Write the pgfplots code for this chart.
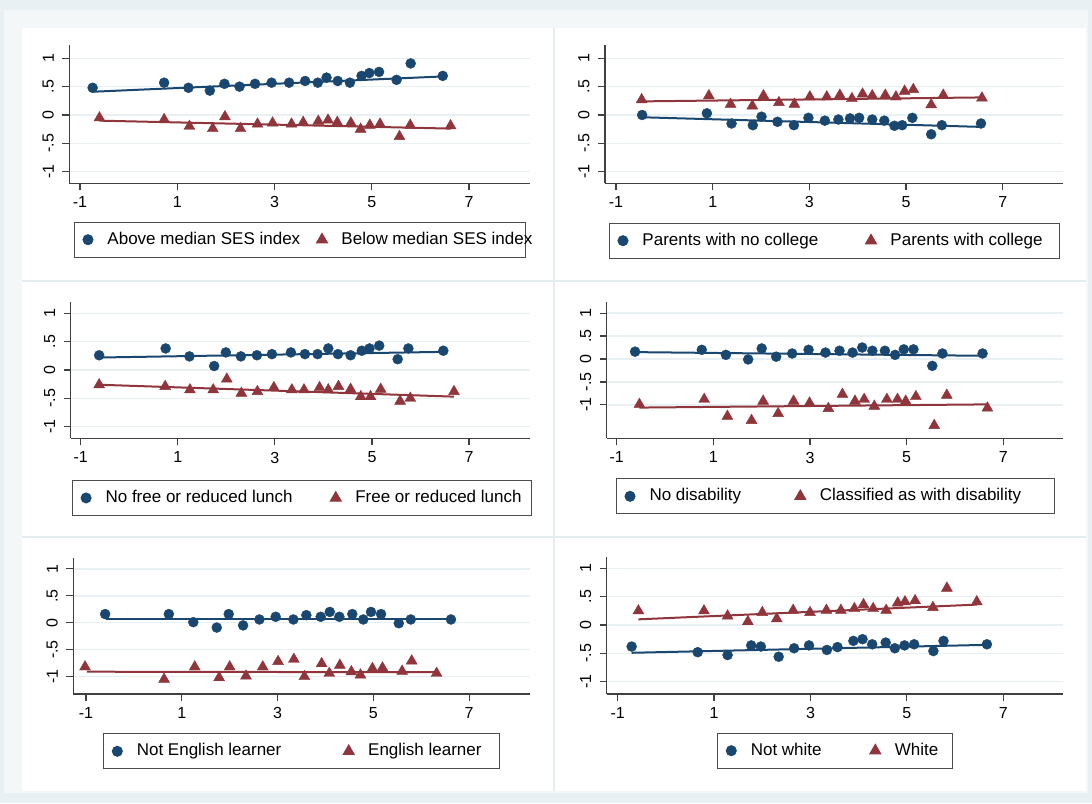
\documentclass[border=0pt]{standalone}
\usepackage{pgfplots}
\pgfplotsset{compat=1.18}
\usepackage{fontspec}
\setmainfont{Liberation Sans}
\definecolor{stnavy}{RGB}{26,71,111}
\definecolor{stmaroon}{RGB}{144,53,59}
\definecolor{gridc}{RGB}{232,240,243}
\definecolor{bgout}{RGB}{233,240,243}
\definecolor{bgmid}{RGB}{243,247,248}
\definecolor{sepc}{RGB}{228,236,239}
\newcommand\lt[2]{\makebox[#1][l]{#2}}
\pgfplotsset{
  panel/.style={
    scale only axis,
    anchor=south west,
    axis x line*=bottom, axis y line*=left,
    axis line style={-, draw=black!75, line width=1.2pt},
    xtick={-1,1,3,5,7}, xticklabels={-1,1,3,5,7},
    ytick={-1,-0.5,0,0.5,1}, yticklabels={-1,-.5,0,.5,1},
    tick align=outside, major tick length=7pt,
    tick style={draw=black!75, line width=1.2pt},
    ymajorgrids, major grid style={draw=gridc, line width=1.5pt},
    ticklabel style={font=\fontsize{16}{19}\selectfont},
    yticklabel style={rotate=90, anchor=south, yshift=5pt},
    xticklabel style={yshift=-3pt},
    clip=false,
    legend columns=2,
    legend style={anchor=north west, draw=black!70, line width=1pt,
      inner xsep=4pt, inner ysep=7.5pt, font=\fontsize{17}{20}\selectfont,
      nodes={inner sep=2pt, text height=12.5pt, text depth=3.5pt}},
  },
  mkimg/.style={legend image code/.code={\path (-9pt,0pt) (17pt,0pt); \draw[##1] plot coordinates {(0pt,0pt)};}},
  circ/.style={only marks, mark=*, mark size=5pt, mark options={draw=stnavy, fill=stnavy}, mkimg},
  tri/.style={only marks, mark=triangle*, mark size=6.3pt, mark options={draw=stmaroon, fill=stmaroon}, mkimg},
  fitb/.style={no marks, draw=stnavy, line width=2pt, forget plot},
  fitr/.style={no marks, draw=stmaroon, line width=2pt, forget plot},
}
\begin{document}
\begin{tikzpicture}
\fill[bgout] (0pt,0pt) rectangle (1092pt,803pt);
\fill[bgmid] (4pt,10pt) rectangle (1088pt,793pt);
\fill[white] (22pt,12pt) rectangle (1086pt,775pt);
\draw[sepc, line width=1.5pt] (554pt,12pt) -- (554pt,775pt);
\draw[sepc, line width=1.5pt] (22pt,522pt) -- (1086pt,522pt);
\draw[sepc, line width=1.5pt] (22pt,266pt) -- (1086pt,266pt);
\useasboundingbox (0pt,0pt) rectangle (1092pt,803pt);

% Panel 1
\begin{axis}[panel, at={(69.3pt,619.7pt)}, width=460.7pt, height=138.3pt,
  xmin=-1.22, xmax=8.254, ymin=-1.205, ymax=1.235,
  legend style={at={(0.0102,-0.2777)}}]
\addplot[circ] coordinates {(-0.74,0.48)(0.73,0.57)(1.23,0.48)(1.67,0.43)(1.97,0.55)(2.28,0.50)(2.60,0.55)(2.94,0.57)(3.30,0.57)(3.63,0.60)(3.89,0.57)(4.07,0.66)(4.30,0.60)(4.55,0.57)(4.79,0.69)(4.95,0.74)(5.15,0.76)(5.51,0.62)(5.80,0.91)(6.46,0.69)};
\addlegendentry{\lt{203pt}{Above median SES index}}
\addplot[tri] coordinates {(-0.60,-0.05)(0.73,-0.08)(1.25,-0.20)(1.73,-0.24)(1.98,-0.03)(2.30,-0.24)(2.65,-0.16)(2.96,-0.14)(3.35,-0.16)(3.59,-0.13)(3.90,-0.11)(4.10,-0.09)(4.29,-0.13)(4.57,-0.14)(4.77,-0.25)(4.96,-0.18)(5.17,-0.16)(5.57,-0.38)(5.79,-0.18)(6.62,-0.19)};
\addlegendentry{\lt{178pt}{Below median SES index}}
\addplot[fitb] coordinates {(-0.74,0.41)(6.46,0.68)};
\addplot[fitr] coordinates {(-0.60,-0.10)(6.62,-0.24)};
\end{axis}

% Panel 2
\begin{axis}[panel, at={(605pt,619.7pt)}, width=458.3pt, height=138.3pt,
  xmin=-1.228, xmax=8.253, ymin=-1.205, ymax=1.235,
  legend style={at={(0.0087,-0.2849)}}]
\addplot[circ] coordinates {(-0.46,0.00)(0.88,0.03)(1.39,-0.15)(1.83,-0.18)(2.01,-0.03)(2.34,-0.12)(2.68,-0.18)(2.98,-0.05)(3.32,-0.10)(3.60,-0.08)(3.84,-0.06)(4.03,-0.05)(4.30,-0.08)(4.55,-0.10)(4.76,-0.19)(4.92,-0.18)(5.13,-0.05)(5.52,-0.34)(5.74,-0.18)(6.55,-0.15)};
\addlegendentry{\lt{217pt}{Parents with no college}}
\addplot[tri] coordinates {(-0.47,0.27)(0.92,0.34)(1.37,0.19)(1.82,0.16)(2.05,0.34)(2.37,0.22)(2.69,0.19)(3.01,0.32)(3.36,0.32)(3.63,0.35)(3.88,0.29)(4.10,0.37)(4.30,0.34)(4.57,0.35)(4.79,0.32)(4.97,0.42)(5.15,0.45)(5.52,0.18)(5.77,0.35)(6.57,0.30)};
\addlegendentry{\lt{162.7pt}{Parents with college}}
\addplot[fitb] coordinates {(-0.46,-0.04)(6.55,-0.21)};
\addplot[fitr] coordinates {(-0.47,0.24)(6.57,0.31)};
\end{axis}

% Panel 3
\begin{axis}[panel, at={(70.7pt,364.7pt)}, width=459.3pt, height=136.6pt,
  xmin=-1.206, xmax=8.256, ymin=-1.205, ymax=1.205,
  legend style={at={(0.003,-0.305)}}]
\addplot[circ] coordinates {(-0.62,0.26)(0.75,0.38)(1.24,0.24)(1.75,0.07)(1.99,0.31)(2.30,0.24)(2.63,0.26)(2.94,0.28)(3.33,0.31)(3.62,0.28)(3.88,0.28)(4.10,0.38)(4.30,0.28)(4.56,0.26)(4.79,0.34)(4.95,0.38)(5.15,0.43)(5.53,0.19)(5.75,0.38)(6.47,0.34)};
\addlegendentry{\lt{218.7pt}{No free or reduced lunch}}
\addplot[tri] coordinates {(-0.62,-0.26)(0.74,-0.29)(1.25,-0.35)(1.73,-0.35)(2.01,-0.16)(2.31,-0.41)(2.64,-0.38)(2.98,-0.31)(3.35,-0.35)(3.60,-0.35)(3.92,-0.31)(4.10,-0.35)(4.31,-0.29)(4.56,-0.34)(4.77,-0.47)(4.97,-0.47)(5.18,-0.34)(5.58,-0.55)(5.79,-0.50)(6.69,-0.38)};
\addlegendentry{\lt{170.6pt}{Free or reduced lunch}}
\addplot[fitb] coordinates {(-0.62,0.22)(6.47,0.32)};
\addplot[fitr] coordinates {(-0.62,-0.26)(6.69,-0.47)};
\end{axis}

% Panel 4
\begin{axis}[panel, at={(606.7pt,364.7pt)}, width=456.6pt, height=136.6pt,
  xmin=-1.207, xmax=8.241, ymin=-1.73, ymax=1.25,
  legend style={at={(0.0204,-0.293)}}]
\addplot[circ] coordinates {(-0.62,0.16)(0.76,0.20)(1.26,0.09)(1.72,-0.01)(2.00,0.23)(2.30,0.05)(2.63,0.12)(2.97,0.20)(3.32,0.14)(3.61,0.18)(3.88,0.14)(4.08,0.25)(4.29,0.18)(4.55,0.18)(4.76,0.09)(4.94,0.21)(5.14,0.21)(5.53,-0.15)(5.74,0.12)(6.57,0.12)};
\addlegendentry{\lt{139.3pt}{No disability}}
\addplot[tri] coordinates {(-0.53,-0.99)(0.81,-0.88)(1.29,-1.25)(1.79,-1.34)(2.03,-0.92)(2.34,-1.19)(2.66,-0.92)(2.99,-0.96)(3.38,-1.08)(3.67,-0.77)(3.93,-0.92)(4.12,-0.88)(4.33,-1.03)(4.59,-0.88)(4.81,-0.88)(4.98,-0.92)(5.19,-0.82)(5.57,-1.45)(5.83,-0.79)(6.67,-1.07)};
\addlegendentry{\lt{228.4pt}{Classified as with disability}}
\addplot[fitb] coordinates {(-0.62,0.15)(6.57,0.07)};
\addplot[fitr] coordinates {(-0.53,-1.06)(6.67,-0.99)};
\end{axis}

% Panel 5
\begin{axis}[panel, at={(73.3pt,109pt)}, width=456.7pt, height=135.7pt,
  xmin=-1.265, xmax=8.27, ymin=-1.324, ymax=1.196,
  legend style={at={(0.0657,-0.2896)}}]
\addplot[circ] coordinates {(-0.60,0.16)(0.73,0.16)(1.24,0.01)(1.73,-0.09)(1.98,0.16)(2.28,-0.05)(2.62,0.06)(2.96,0.11)(3.33,0.06)(3.60,0.14)(3.90,0.11)(4.09,0.20)(4.29,0.11)(4.56,0.16)(4.79,0.06)(4.95,0.20)(5.16,0.16)(5.53,-0.01)(5.78,0.06)(6.62,0.06)};
\addlegendentry{\lt{200.4pt}{Not English learner}}
\addplot[tri] coordinates {(-1.02,-0.82)(0.63,-1.05)(1.27,-0.82)(1.78,-1.02)(2.00,-0.82)(2.34,-0.99)(2.69,-0.82)(3.01,-0.72)(3.34,-0.68)(3.56,-1.00)(3.92,-0.76)(4.08,-0.94)(4.30,-0.79)(4.54,-0.91)(4.73,-0.97)(4.98,-0.85)(5.19,-0.84)(5.60,-0.90)(5.80,-0.71)(6.32,-0.94)};
\addlegendentry{\lt{125.6pt}{English learner}}
\addplot[fitb] coordinates {(-0.58,0.06)(6.62,0.06)};
\addplot[fitr] coordinates {(-0.98,-0.91)(6.32,-0.92)};
\end{axis}

% Panel 6
\begin{axis}[panel, at={(606.7pt,109pt)}, width=456.6pt, height=137.3pt,
  xmin=-1.228, xmax=8.245, ymin=-1.217, ymax=1.205,
  legend style={at={(0.2422,-0.2819)}}]
\addplot[circ] coordinates {(-0.71,-0.38)(0.66,-0.48)(1.28,-0.53)(1.77,-0.36)(1.97,-0.38)(2.34,-0.56)(2.66,-0.41)(2.97,-0.36)(3.34,-0.44)(3.56,-0.39)(3.89,-0.28)(4.08,-0.25)(4.28,-0.34)(4.56,-0.31)(4.75,-0.41)(4.95,-0.36)(5.15,-0.34)(5.55,-0.46)(5.76,-0.28)(6.66,-0.34)};
\addlegendentry{\lt{113pt}{Not white}}
\addplot[tri] coordinates {(-0.57,0.25)(0.79,0.25)(1.28,0.16)(1.70,0.06)(2.00,0.22)(2.30,0.11)(2.64,0.26)(2.99,0.22)(3.33,0.26)(3.63,0.26)(3.91,0.29)(4.10,0.36)(4.30,0.29)(4.57,0.26)(4.81,0.39)(4.96,0.41)(5.17,0.43)(5.54,0.31)(5.83,0.65)(6.45,0.41)};
\addlegendentry{\lt{51.7pt}{White}}
\addplot[fitb] coordinates {(-0.71,-0.49)(6.66,-0.35)};
\addplot[fitr] coordinates {(-0.57,0.10)(6.45,0.36)};
\end{axis}
\end{tikzpicture}
\end{document}
